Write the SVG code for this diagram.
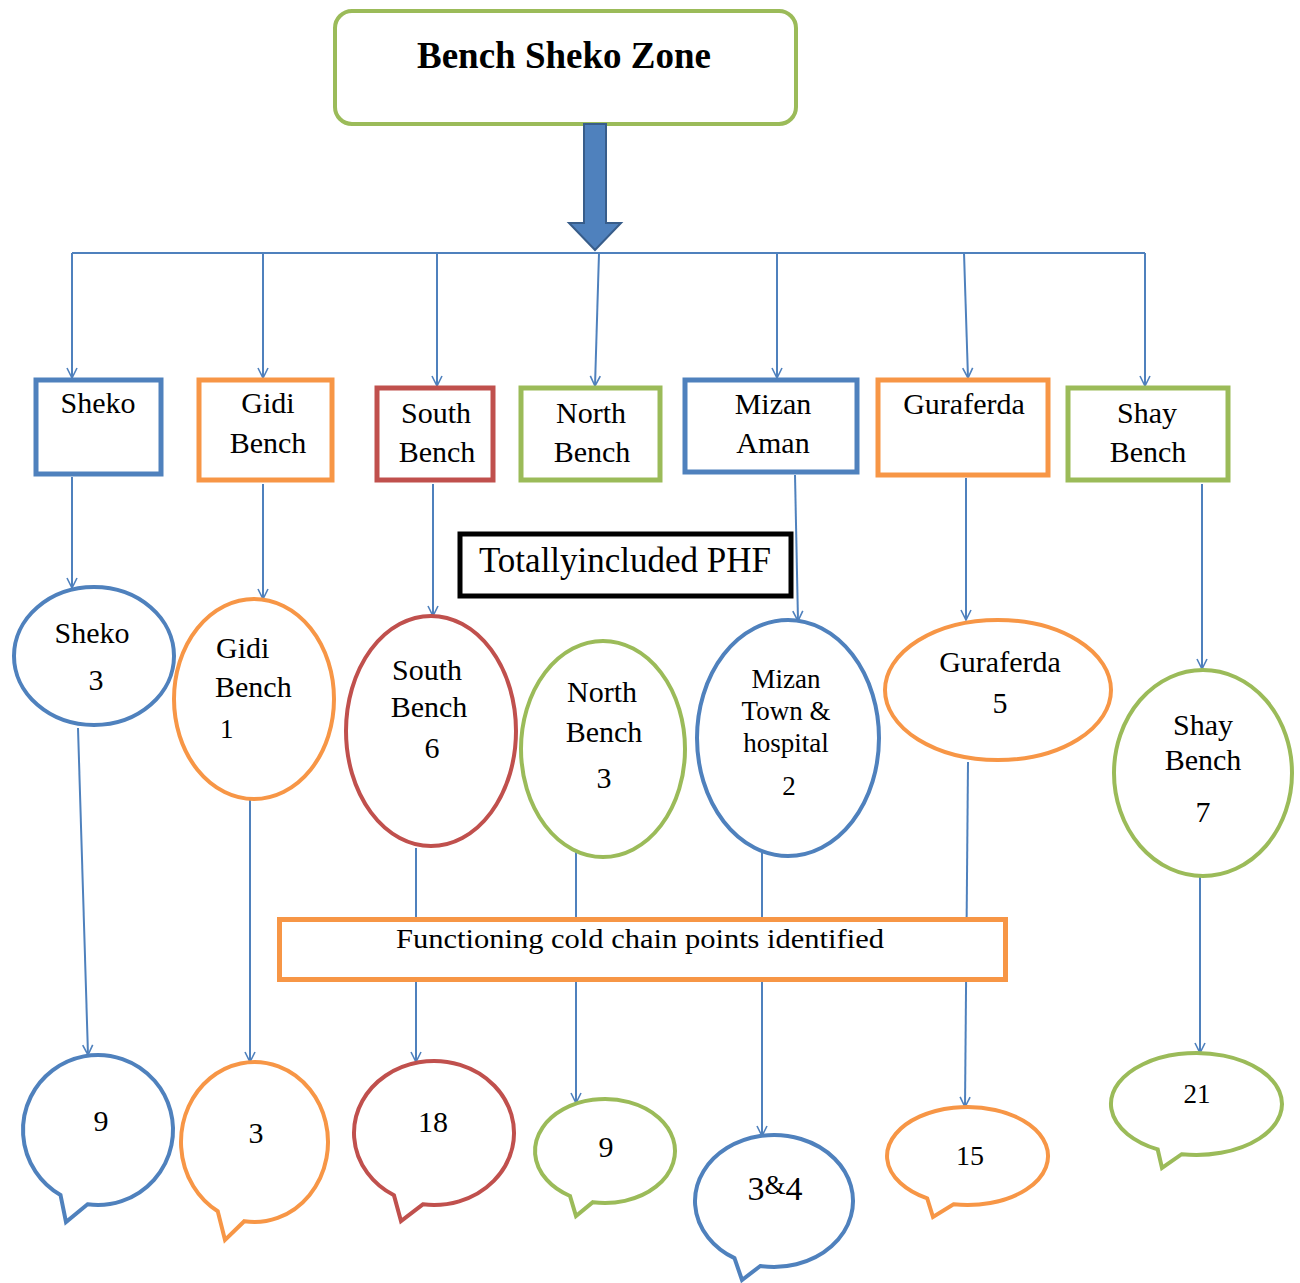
<svg xmlns="http://www.w3.org/2000/svg" width="1300" height="1283" viewBox="0 0 1300 1283">
<defs>
<marker id="open" viewBox="0 0 12 12" refX="11" refY="6" markerWidth="12" markerHeight="12" markerUnits="userSpaceOnUse" orient="auto">
<path d="M1,1 L11,6 L1,11" fill="none" stroke="#4F81BD" stroke-width="1.6"/>
</marker>
</defs>
<style>
text{font-family:"Liberation Serif","DejaVu Serif",serif;fill:#000;text-anchor:middle}
.t30{font-size:30px}
.t28{font-size:28px}
.t27{font-size:27px}
.conn{stroke:#4F81BD;stroke-width:2;fill:none}
.arr{marker-end:url(#open)}
.box{fill:#fff;stroke-width:5}
.ell{fill:#fff;stroke-width:4}
.blue{stroke:#4F81BD}
.orange{stroke:#F79646}
.red{stroke:#C0504D}
.green{stroke:#9BBB59}
.black{stroke:#000}
</style>
<rect width="1300" height="1283" fill="#fff"/>

<g id="connectors">
<line class="conn" x1="72" y1="253" x2="1145" y2="253" stroke-width="3"/>
<line class="conn arr" x1="72" y1="253" x2="72" y2="378"/>
<line class="conn arr" x1="263" y1="253" x2="263" y2="378"/>
<line class="conn arr" x1="437" y1="253" x2="437" y2="386"/>
<line class="conn arr" x1="599" y1="253" x2="595" y2="386"/>
<line class="conn arr" x1="777" y1="253" x2="777" y2="378"/>
<line class="conn arr" x1="964" y1="253" x2="968" y2="378"/>
<line class="conn arr" x1="1145" y1="253" x2="1145" y2="386"/>

<line class="conn arr" x1="72" y1="477" x2="72" y2="588"/>
<line class="conn arr" x1="263" y1="484" x2="263" y2="599"/>
<line class="conn arr" x1="433" y1="484" x2="433" y2="616"/>
<line class="conn arr" x1="795" y1="475" x2="798" y2="621"/>
<line class="conn arr" x1="966" y1="478" x2="966" y2="620"/>
<line class="conn arr" x1="1202" y1="484" x2="1202" y2="669"/>

<line class="conn arr" x1="78" y1="728" x2="88" y2="1055"/>
<line class="conn arr" x1="250" y1="800" x2="250" y2="1062"/>
<line class="conn arr" x1="416" y1="848" x2="416" y2="1062"/>
<line class="conn arr" x1="576" y1="852" x2="576" y2="1103"/>
<line class="conn arr" x1="762" y1="853" x2="762" y2="1136"/>
<line class="conn arr" x1="968" y1="762" x2="965" y2="1107"/>
<line class="conn arr" x1="1200" y1="877" x2="1200" y2="1053"/>
</g>

<g id="zone">
<rect x="335" y="11" width="461" height="113" rx="17" fill="#fff" stroke="#9BBB59" stroke-width="4"/>
<text x="564" y="68" style="font-size:37px;font-weight:bold">Bench Sheko Zone</text>
</g>
<g id="zone-arrow">
<path d="M584,124 L606,124 L606,223 L621,223 L595,250 L569,223 L584,223 Z" fill="#4F81BD" stroke="#385D8A" stroke-width="2"/>
</g>

<g id="box-sheko"><rect class="box blue" x="36" y="380" width="125" height="94"/><text class="t30" x="98" y="413">Sheko</text></g>
<g id="box-gidi"><rect class="box orange" x="199" y="380" width="133" height="100"/><text class="t30" x="268" y="413">Gidi</text><text class="t30" x="268" y="453">Bench</text></g>
<g id="box-south"><rect class="box red" x="377" y="388" width="116" height="92"/><text class="t30" x="436" y="423">South</text><text class="t30" x="437" y="462">Bench</text></g>
<g id="box-north"><rect class="box green" x="521" y="388" width="139" height="92"/><text class="t30" x="591" y="423">North</text><text class="t30" x="592" y="462">Bench</text></g>
<g id="box-mizan"><rect class="box blue" x="685" y="380" width="172" height="92"/><text class="t30" x="773" y="414">Mizan</text><text class="t30" x="773" y="453">Aman</text></g>
<g id="box-guraferda"><rect class="box orange" x="878" y="380" width="170" height="95"/><text class="t30" x="964" y="414">Guraferda</text></g>
<g id="box-shay"><rect class="box green" x="1068" y="388" width="160" height="92"/><text class="t30" x="1147" y="423">Shay</text><text class="t30" x="1148" y="462">Bench</text></g>

<g id="label-phf"><rect class="box black" x="460" y="534" width="331" height="62"/><text x="625" y="572" style="font-size:35px">Totallyincluded PHF</text></g>

<g id="ell-sheko"><ellipse class="ell blue" cx="94" cy="656" rx="80" ry="69"/><text class="t30" x="92" y="643">Sheko</text><text class="t30" x="96" y="690">3</text></g>
<g id="ell-gidi"><ellipse class="ell orange" cx="254" cy="699" rx="80" ry="100"/><text class="t30" x="216" y="658" style="text-anchor:start">Gidi</text><text class="t30" x="215" y="697" style="text-anchor:start">Bench</text><text class="t27" x="220" y="738" style="text-anchor:start">1</text></g>
<g id="ell-south"><ellipse class="ell red" cx="431" cy="731" rx="85" ry="115"/><text class="t30" x="427" y="680">South</text><text class="t30" x="429" y="717">Bench</text><text class="t30" x="432" y="758">6</text></g>
<g id="ell-north"><ellipse class="ell green" cx="603" cy="749" rx="82" ry="108"/><text class="t30" x="602" y="702">North</text><text class="t30" x="604" y="742">Bench</text><text class="t30" x="604" y="788">3</text></g>
<g id="ell-mizan"><ellipse class="ell blue" cx="788" cy="738" rx="91" ry="118"/><text class="t27" x="786" y="688">Mizan</text><text class="t27" x="786" y="720">Town &amp;</text><text class="t27" x="786" y="752">hospital</text><text class="t27" x="789" y="795">2</text></g>
<g id="ell-guraferda"><ellipse class="ell orange" cx="998" cy="690" rx="113" ry="70"/><text class="t30" x="1000" y="672">Guraferda</text><text class="t30" x="1000" y="713">5</text></g>
<g id="ell-shay"><ellipse class="ell green" cx="1203" cy="773" rx="89" ry="103"/><text class="t30" x="1203" y="735">Shay</text><text class="t30" x="1203" y="770">Bench</text><text class="t30" x="1203" y="822">7</text></g>

<g id="label-cold"><rect class="box orange" x="279.5" y="919.5" width="726" height="60"/><text x="640" y="948" style="font-size:28px" textLength="488" lengthAdjust="spacingAndGlyphs">Functioning cold chain points identified</text></g>

<g id="call-sheko"><path class="ell blue" d="M87.56,1204.27 A75,75 0 1 0 60.5,1194.95 L66,1222 Z"/><text class="t30" x="101" y="1131">9</text></g>
<g id="call-gidi"><path class="ell orange" d="M244.27,1221.22 A73.5,80 0 1 0 217.75,1211.28 L225,1240 Z"/><text class="t30" x="256" y="1143">3</text></g>
<g id="call-south"><path class="ell red" d="M422.86,1204.3 A80,72 0 1 0 394,1195.35 L401,1221 Z"/><text class="t30" x="433" y="1132">18</text></g>
<g id="call-north"><path class="ell green" d="M592.85,1202.21 A70,52 0 1 0 570,1196.03 L576,1216 Z"/><text class="t30" x="606" y="1157">9</text></g>
<g id="call-mizan"><path class="ell blue" d="M760.28,1266 A79,66 0 1 0 734.5,1258.16 L742,1280 Z"/><text x="775" y="1200" style="font-size:34px">3<tspan style="font-size:27px" dy="-6">&amp;</tspan><tspan dy="6">4</tspan></text></g>
<g id="call-guraferda"><path class="ell orange" d="M953.52,1204.26 A80.5,49 0 1 0 927.25,1198.43 L933,1217 Z"/><text class="t28" x="970" y="1165">15</text></g>
<g id="call-shay"><path class="ell green" d="M1181.66,1154.22 A85.5,51 0 1 0 1157.68,1149.44 L1162,1168 Z"/><text class="t27" x="1197" y="1103">21</text></g>
</svg>
